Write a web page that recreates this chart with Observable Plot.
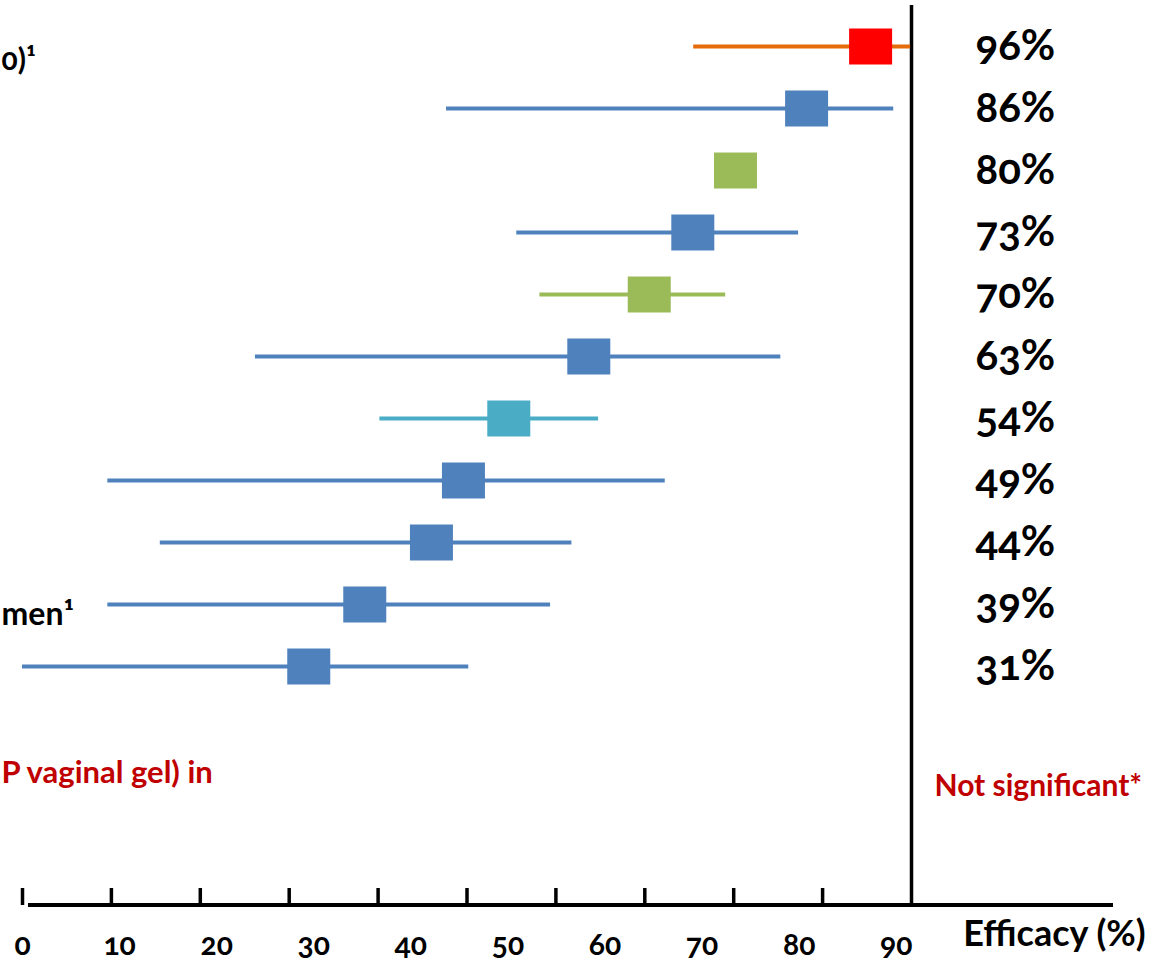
<!DOCTYPE html>
<html><head><meta charset="utf-8">
<script src="https://cdn.jsdelivr.net/npm/d3@7"></script>
<script src="https://cdn.jsdelivr.net/npm/@observablehq/plot@0.6"></script>
<style>
body{margin:0;background:#fff;}
#chart svg{display:block;font-variant-numeric:oldstyle-nums;}
</style>
</head><body><div id="chart"></div>
<script>
// ---- data ----
const efficacyLabels = ["96%","86%","80%","73%","70%","63%","54%","49%","44%","39%","31%"];
const pointEstimates = [95.4, 88.2, 80.2, 75.4, 70.5, 63.7, 54.7, 49.6, 46.0, 38.5, 32.2];
const lowerBounds    = [75.5, 47.7, null, 55.6, 58.2, 26.2, 40.2, 9.6, 15.5, 9.6, 0];
const upperBounds    = [99.9, 98.0, null, 87.3, 79.1, 85.3, 64.8, 72.3, 61.8, 59.4, 50.2];
const groups         = ["A","B","C","B","C","B","D","B","B","B","B"];
const tickValues     = [0,10,20,30,40,50,60,70,80,90];
const rowNotes       = [{row: "96%", text: "0)\u00B9"}, {row: "39%", text: "men\u00B9"}];
const footNote       = "P vaginal gel) in";
const sigNote        = "Not significant*";
const axisTitle      = "Efficacy (%)";

const rows = efficacyLabels.map((label, i) => ({
  label, est: pointEstimates[i], lo: lowerBounds[i], hi: upperBounds[i], group: groups[i]
}));

const boxSymbol = {draw(context) { context.rect(-21.5, -18, 43, 36); }};
const red = "#C00000";

const chart = Plot.plot({
  width: 1164, height: 964,
  marginTop: 5, marginBottom: 59, marginLeft: 22, marginRight: 253,
  style: {fontFamily: "Lato, 'Open Sans', sans-serif", background: "white", overflow: "visible"},
  x: {domain: [0, 100], axis: null},
  y: {type: "point", domain: efficacyLabels, range: [45, 667], padding: 0, axis: null},
  color: {domain: ["A","B","C","D"], range: ["#FF0000","#4F81BD","#9BBB59","#4BACC6"]},
  marks: [
    // axis baseline
    Plot.rect([0], {x1: 0, x2: 100, insetTop: 898, insetBottom: -2, insetLeft: 6, insetRight: -202, fill: "black"}),
    // ticks
    Plot.ruleX(tickValues, {insetTop: 883, stroke: "black", strokeWidth: 3.5}),
    // 100% reference line
    Plot.ruleX([100], {stroke: "black", strokeWidth: 3.5}),
    // confidence intervals
    Plot.ruleY(rows.filter(d => d.lo != null && d.group !== "A"), {y: "label", x1: "lo", x2: "hi", stroke: "group", strokeWidth: 4}),
    Plot.ruleY(rows.filter(d => d.lo != null && d.group === "A"), {y: "label", x1: "lo", x2: "hi", stroke: "#E46C0A", strokeWidth: 4}),
    // point estimates
    Plot.dot(rows, {x: "est", y: "label", fill: "group", symbol: boxSymbol}),
    // efficacy labels
    Plot.text(rows, {y: "label", text: "label", frameAnchor: "right", dx: 64, dy: 0, textAnchor: "start",
      fontSize: 42, fontWeight: "bold", fill: "black"}),
    // tick labels
    Plot.text(tickValues, {x: d => d * 1.092, text: d => String(d), frameAnchor: "bottom", dy: 49,
      fontSize: 30, fontWeight: "bold", fill: "black"}),
    // axis title
    Plot.text([axisTitle], {frameAnchor: "bottom-right", dx: 143, dy: 40, textAnchor: "middle",
      fontSize: 36, fontWeight: "bold", fill: "black"}),
    // left-side (cropped) study names
    Plot.text(rowNotes.slice(0, 1), {y: "row", text: "text", frameAnchor: "left", dx: -21, dy: 14, textAnchor: "start",
      fontSize: 30, fontWeight: "bold", fill: "black"}),
    Plot.text(rowNotes.slice(1), {y: "row", text: "text", frameAnchor: "left", dx: -21, dy: 10, textAnchor: "start",
      fontSize: 32, fontWeight: "bold", fill: "black"}),
    // red notes
    Plot.text([footNote], {frameAnchor: "bottom-left", dx: -21, dy: -123, textAnchor: "start",
      fontSize: 31, fontWeight: "bold", fill: red}),
    Plot.text([sigNote], {frameAnchor: "bottom-right", dx: 23, dy: -110, textAnchor: "start",
      fontSize: 30, fontWeight: "bold", fill: red})
  ]
});
document.getElementById("chart").appendChild(chart);
</script>
</body></html>
